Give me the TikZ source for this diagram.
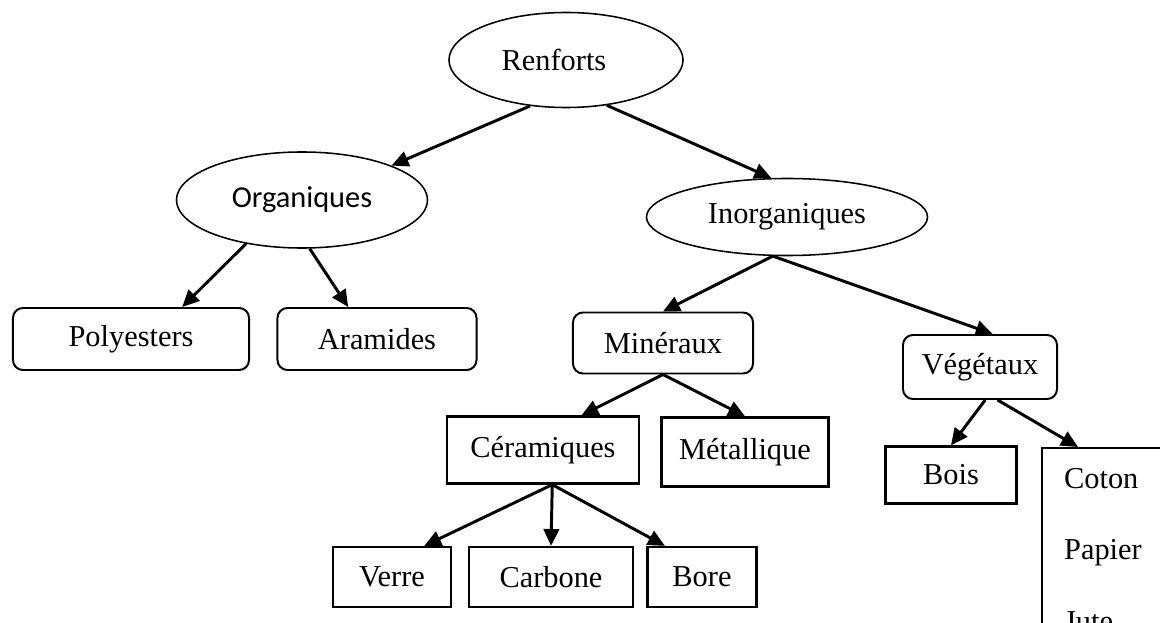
\documentclass[tikz,border=0pt]{standalone}
\usepackage{fontspec}
\setmainfont{Liberation Serif}
\newfontfamily\calibfont{Carlito}
\usetikzlibrary{shapes.geometric, arrows.meta}

\begin{document}
\begin{tikzpicture}[x=0.025cm, y=-0.025cm,
    every node/.style={font=\fontsize{21.6pt}{26pt}\selectfont, inner sep=0pt},
    oval/.style={draw, ellipse, line width=1.1pt},
    roundbox/.style={draw, rectangle, rounded corners=0.25cm, line width=1.4pt},
    sqbox/.style={draw, rectangle, line width=1.6pt},
    arr/.style={line width=2.1pt, -{Triangle[length=12pt, width=11pt]}}]

    \useasboundingbox (0,0) rectangle (1160,623);

    \node[oval, minimum width=5.85cm, minimum height=2.375cm] (ren) at (566, 60) {\hspace*{-0.6cm}Renforts};
    \node[oval, minimum width=6.275cm, minimum height=2.4cm, font=\fontsize{21.6pt}{26pt}\calibfont] (org) at (302, 200) {Organiques};
    \node[oval, minimum width=7.025cm, minimum height=1.925cm] (inorg) at (787, 217) {Inorganiques};

    \node[roundbox, minimum width=5.9cm, minimum height=1.55cm] (poly) at (131, 339) {Polyesters};
    \node[roundbox, minimum width=4.975cm, minimum height=1.55cm] (aram) at (377, 339) {Aramides};
    \node[roundbox, minimum width=4.5cm, minimum height=1.525cm] (min) at (663, 343) {Minéraux};
    \node[roundbox, minimum width=3.85cm, minimum height=1.6cm] (veg) at (980, 367) {Végétaux};

    \node[sqbox, minimum width=4.8cm, minimum height=1.675cm] (cer) at (543, 450) {Céramiques};
    \node[sqbox, minimum width=4.175cm, minimum height=1.725cm] (met) at (745, 452) {Métallique};
    \node[sqbox, minimum width=2.95cm, minimum height=1.5cm] (verre) at (392, 577) {Verre};
    \node[sqbox, minimum width=4.1cm, minimum height=1.5cm] (carb) at (551, 577) {Carbone};
    \node[sqbox, minimum width=2.725cm, minimum height=1.5cm] (bore) at (702, 577) {Bore};
    \node[sqbox, minimum width=3.275cm, minimum height=1.425cm] (bois) at (951, 475) {Bois};
    \node[sqbox, anchor=north west, align=left, text width=3.4cm, inner xsep=0.55cm, inner ysep=0.5cm,
          font=\fontsize{21.6pt}{51pt}\selectfont] (cot) at (1041, 447) {Coton\\Papier\\Jute};

    \draw[arr] (ren.232) -- (org.21);
    \draw[arr] (ren.312) -- (inorg.112);

    \draw[arr] (org.218) -- (poly.32);
    \draw[arr] (org.279) -- (aram.132);

    \draw[arr] (inorg.250) -- (min.north);
    \draw[arr] (inorg.250) -- (veg.69);

    \draw[arr] (min.south) -- (cer.42);
    \draw[arr] (min.south) -- (met.north);

    \draw[arr] (cer.285) -- (verre.44);
    \draw[arr] (cer.285) -- (carb.north);
    \draw[arr] (cer.285) -- (bore.140);

    \draw[arr] (veg.279) -- (bois.north);
    \draw[arr] (veg.298) -- ([xshift=0.925cm]cot.north west);

\end{tikzpicture}
\end{document}
